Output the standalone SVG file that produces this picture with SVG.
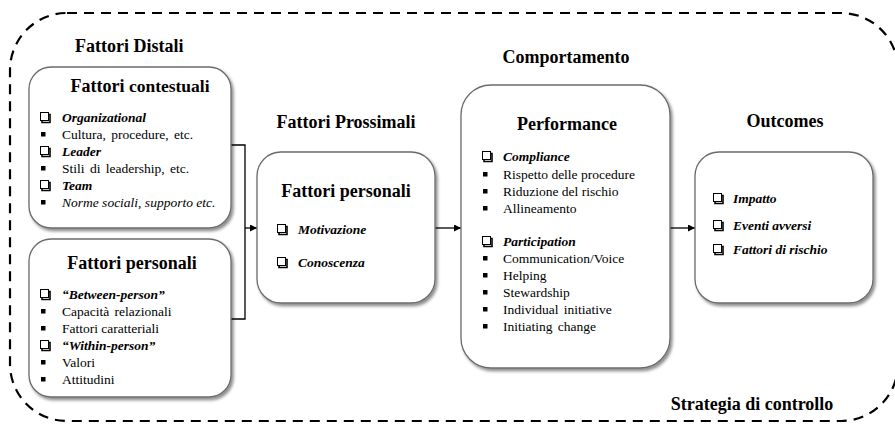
<svg xmlns="http://www.w3.org/2000/svg" width="895" height="426" viewBox="0 0 895 426" font-family="'Liberation Serif', 'Times New Roman', serif">
<defs>
<filter id="sh" x="-10%" y="-10%" width="125%" height="125%">
<feDropShadow dx="2" dy="2.5" stdDeviation="1.5" flood-color="#000" flood-opacity="0.45"/>
</filter>
<marker id="arr" viewBox="0 0 8 8" refX="8" refY="4" markerWidth="7" markerHeight="7" markerUnits="userSpaceOnUse" orient="auto">
<path d="M0,0 L8,4 L0,8 z" fill="#000"/>
</marker>
<g id="cbx">
<rect x="0.5" y="-9.5" width="8" height="8" fill="#fff" stroke="#000" stroke-width="1"/>
<path d="M2,-1 L2,0.5 L10,0.5 L10,-7.5 L8.5,-7.5" fill="none" stroke="#000" stroke-width="1.6"/>
</g>
<rect id="bul" x="0" y="-7" width="4.5" height="4.5" fill="#000"/>
</defs>
<style>
.box{fill:#fff;stroke:#6b6b6b;stroke-width:1.3;filter:url(#sh)}
.hd{font-weight:bold;font-size:18px;fill:#000}
.t{font-size:13.5px;fill:#000}
.bi{font-size:13.5px;font-weight:bold;font-style:italic;fill:#000}
.it{font-size:13.5px;font-style:italic;fill:#000}
.ln{fill:none;stroke:#000;stroke-width:1.3}
</style>
<rect x="10" y="13" width="888" height="408" rx="57" ry="57" fill="none" stroke="#000" stroke-width="2.2" stroke-dasharray="10 7"/>
<text class="hd" x="75" y="52">Fattori Distali</text>
<text class="hd" x="566" y="63" text-anchor="middle">Comportamento</text>
<text class="hd" x="346" y="128" text-anchor="middle">Fattori Prossimali</text>
<text class="hd" x="785" y="127" text-anchor="middle">Outcomes</text>
<text class="hd" x="752" y="410" text-anchor="middle">Strategia di controllo</text>
<g id="connectors">
<polyline class="ln" points="231,145 245,145 245,319 231,319"/>
<line class="ln" x1="245" y1="228" x2="257" y2="228" marker-end="url(#arr)"/>
<line class="ln" x1="435" y1="228" x2="461" y2="228" marker-end="url(#arr)"/>
<line class="ln" x1="670" y1="228" x2="695" y2="228" marker-end="url(#arr)"/>
</g>
<g id="fattori-contestuali">
<rect class="box" x="29" y="67" width="202" height="161" rx="22"/>
<text class="hd" x="140" y="92" text-anchor="middle">Fattori <tspan font-size="17.5">contestuali</tspan></text>
<use href="#cbx" x="40" y="122"/><text class="bi" x="62" y="122">Organizational</text>
<use href="#bul" x="41" y="139"/><text class="t" x="62" y="139" word-spacing="2">Cultura, procedure, etc.</text>
<use href="#cbx" x="40" y="156"/><text class="bi" x="62" y="156">Leader</text>
<use href="#bul" x="41" y="173"/><text class="t" x="62" y="173" word-spacing="2">Stili di leadership, etc.</text>
<use href="#cbx" x="40" y="190"/><text class="bi" x="62" y="190">Team</text>
<use href="#bul" x="41" y="207"/><text class="it" x="62" y="207">Norme sociali, supporto etc.</text>
</g>
<g id="fattori-personali-distali">
<rect class="box" x="29" y="239" width="202" height="158" rx="22"/>
<text class="hd" x="132" y="269" text-anchor="middle">Fattori personali</text>
<use href="#cbx" x="40" y="299"/><text class="bi" x="62" y="299">“Between-person”</text>
<use href="#bul" x="41" y="316"/><text class="t" x="62" y="316" word-spacing="2">Capacità relazionali</text>
<use href="#bul" x="41" y="333"/><text class="t" x="62" y="333">Fattori caratteriali</text>
<use href="#cbx" x="40" y="350"/><text class="bi" x="62" y="350">“Within-person”</text>
<use href="#bul" x="41" y="367"/><text class="t" x="62" y="367">Valori</text>
<use href="#bul" x="41" y="384"/><text class="t" x="62" y="384">Attitudini</text>
</g>
<g id="fattori-personali-prossimali">
<rect class="box" x="257" y="152" width="178" height="151" rx="24"/>
<text class="hd" x="346" y="197" text-anchor="middle">Fattori personali</text>
<use href="#cbx" x="277" y="234"/><text class="bi" x="298" y="234">Motivazione</text>
<use href="#cbx" x="277" y="267"/><text class="bi" x="298" y="267">Conoscenza</text>
</g>
<g id="performance">
<rect class="box" x="461" y="85" width="209" height="283" rx="30"/>
<text class="hd" x="567" y="130" text-anchor="middle">Performance</text>
<use href="#cbx" x="482" y="161"/><text class="bi" x="503" y="161">Compliance</text>
<use href="#bul" x="483" y="179"/><text class="t" x="503" y="179">Rispetto delle procedure</text>
<use href="#bul" x="483" y="196"/><text class="t" x="503" y="196">Riduzione del rischio</text>
<use href="#bul" x="483" y="213"/><text class="t" x="503" y="213">Allineamento</text>
<use href="#cbx" x="482" y="246"/><text class="bi" x="503" y="246">Participation</text>
<use href="#bul" x="483" y="263"/><text class="t" x="503" y="263">Communication/Voice</text>
<use href="#bul" x="483" y="280"/><text class="t" x="503" y="280">Helping</text>
<use href="#bul" x="483" y="297"/><text class="t" x="503" y="297">Stewardship</text>
<use href="#bul" x="483" y="314"/><text class="t" x="503" y="314" word-spacing="2">Individual initiative</text>
<use href="#bul" x="483" y="331"/><text class="t" x="503" y="331" word-spacing="2">Initiating change</text>
</g>
<g id="outcomes">
<rect class="box" x="695" y="152" width="178" height="151" rx="24"/>
<use href="#cbx" x="713" y="203"/><text class="bi" x="733" y="203">Impatto</text>
<use href="#cbx" x="713" y="230"/><text class="bi" x="733" y="230">Eventi avversi</text>
<use href="#cbx" x="713" y="254"/><text class="bi" x="733" y="254">Fattori di rischio</text>
</g>
</svg>
